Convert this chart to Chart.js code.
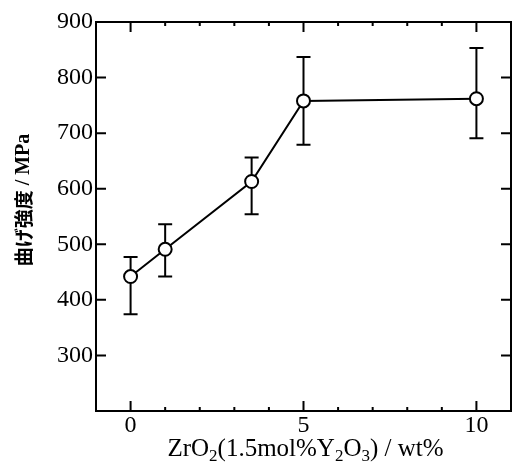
<!DOCTYPE html>
<html lang="ja">
<head>
  <meta charset="UTF-8" />
  <title>曲げ強度</title>
  <script src="https://cdn.jsdelivr.net/npm/chart.js"></script>
  <style>
    html, body { margin: 0; padding: 0; background: #fff; }
    #wrap { width: 514px; height: 470px; }
  </style>
</head>
<body>
  <div id="wrap"><canvas id="chart" width="514" height="470"></canvas></div>
  <script>
    // ZrO2 content (wt%) and bending strength (MPa)
    const zro2 = [0, 1, 3.5, 5, 10];
    const strength = [442, 491, 613, 758, 762];
    const errHigh = [477, 536, 656, 837, 853];
    const errLow = [374, 442, 554, 679, 691];

    const xTickLabels = [0, 5, 10];
    const yTickLabels = [300, 400, 500, 600, 700, 800, 900];

    const serif = '"Liberation Serif", "Times New Roman", serif';
    const cjk = '"Noto Sans CJK JP", "Noto Sans", sans-serif';

    // error bars, drawn under the markers
    const errorBars = {
      id: 'errorBars',
      beforeDatasetsDraw(chart) {
        const { ctx, scales: { x, y } } = chart;
        ctx.save();
        ctx.strokeStyle = '#000';
        ctx.lineWidth = 2;
        zro2.forEach((v, i) => {
          const px = x.getPixelForValue(v);
          const top = y.getPixelForValue(errHigh[i]);
          const bot = y.getPixelForValue(errLow[i]);
          ctx.beginPath();
          ctx.moveTo(px, top); ctx.lineTo(px, bot);
          ctx.moveTo(px - 7, top); ctx.lineTo(px + 7, top);
          ctx.moveTo(px - 7, bot); ctx.lineTo(px + 7, bot);
          ctx.stroke();
        });
        ctx.restore();
      }
    };

    // box frame with inward ticks, plus axis titles
    const frame = {
      id: 'frame',
      afterDraw(chart) {
        const { ctx, chartArea: a, scales: { x, y } } = chart;
        ctx.save();
        ctx.strokeStyle = '#000';
        ctx.lineWidth = 2;
        ctx.strokeRect(a.left, a.top, a.right - a.left, a.bottom - a.top);

        ctx.beginPath();
        for (let v = Math.ceil(x.min); v <= x.max; v++) {
          const px = x.getPixelForValue(v);
          const len = xTickLabels.includes(v) ? 10 : 4;
          ctx.moveTo(px, a.bottom); ctx.lineTo(px, a.bottom - len);
          ctx.moveTo(px, a.top); ctx.lineTo(px, a.top + len);
        }
        yTickLabels.forEach(v => {
          const py = y.getPixelForValue(v);
          ctx.moveTo(a.left, py); ctx.lineTo(a.left + 10, py);
          ctx.moveTo(a.right, py); ctx.lineTo(a.right - 10, py);
        });
        ctx.stroke();

        // x title with subscripts
        const parts = [['ZrO', 0], ['2', 1], ['(1.5mol%Y', 0], ['2', 1], ['O', 0], ['3', 1], [') / wt%', 0]];
        const fontFor = s => s ? '17px ' + serif : '25px ' + serif;
        let w = 0;
        parts.forEach(([t, s]) => { ctx.font = fontFor(s); w += ctx.measureText(t).width; });
        let cx = (a.left + a.right) / 2 + 2 - w / 2;
        ctx.fillStyle = '#000';
        ctx.textBaseline = 'alphabetic';
        ctx.textAlign = 'left';
        parts.forEach(([t, s]) => {
          ctx.font = fontFor(s);
          ctx.fillText(t, cx, 456 + (s ? 5 : 0));
          cx += ctx.measureText(t).width;
        });

        // y title, rotated
        ctx.translate(24, 200);
        ctx.rotate(-Math.PI / 2);
        const yParts = [['曲げ強度', 'bold 19px ' + cjk], [' / MPa', 'bold 20px ' + serif]];
        let yw = 0;
        yParts.forEach(([t, f]) => { ctx.font = f; yw += ctx.measureText(t).width; });
        let tx = -yw / 2;
        ctx.textBaseline = 'middle';
        yParts.forEach(([t, f]) => {
          ctx.font = f;
          ctx.fillText(t, tx, 0);
          tx += ctx.measureText(t).width;
        });
        ctx.restore();
      }
    };

    new Chart(document.getElementById('chart'), {
      type: 'line',
      data: {
        datasets: [{
          data: zro2.map((v, i) => ({ x: v, y: strength[i] })),
          borderColor: '#000',
          borderWidth: 2,
          tension: 0,
          pointRadius: 6.5,
          pointBackgroundColor: '#fff',
          pointBorderColor: '#000',
          pointBorderWidth: 2
        }]
      },
      options: {
        responsive: false,
        animation: false,
        layout: { autoPadding: false, padding: { top: 22, right: 3, left: 0, bottom: 0 } },
        plugins: { legend: { display: false }, tooltip: { enabled: false } },
        scales: {
          x: {
            type: 'linear',
            min: -1,
            max: 11,
            grid: { display: false, drawTicks: false },
            border: { display: false },
            ticks: {
              stepSize: 1,
              autoSkip: false,
              maxRotation: 0,
              padding: 0,
              color: '#000',
              font: { family: serif, size: 24 },
              callback: v => xTickLabels.includes(v) ? String(v) : ''
            },
            afterFit: s => { s.height = 59; }
          },
          y: {
            min: 200,
            max: 900,
            grid: { display: false, drawTicks: false },
            border: { display: false },
            ticks: {
              stepSize: 100,
              padding: 3,
              color: '#000',
              font: { family: serif, size: 24 },
              callback: v => yTickLabels.includes(v) ? String(v) : ''
            },
            afterFit: s => { s.width = 96; }
          }
        }
      },
      plugins: [errorBars, frame]
    });
  </script>
</body>
</html>
